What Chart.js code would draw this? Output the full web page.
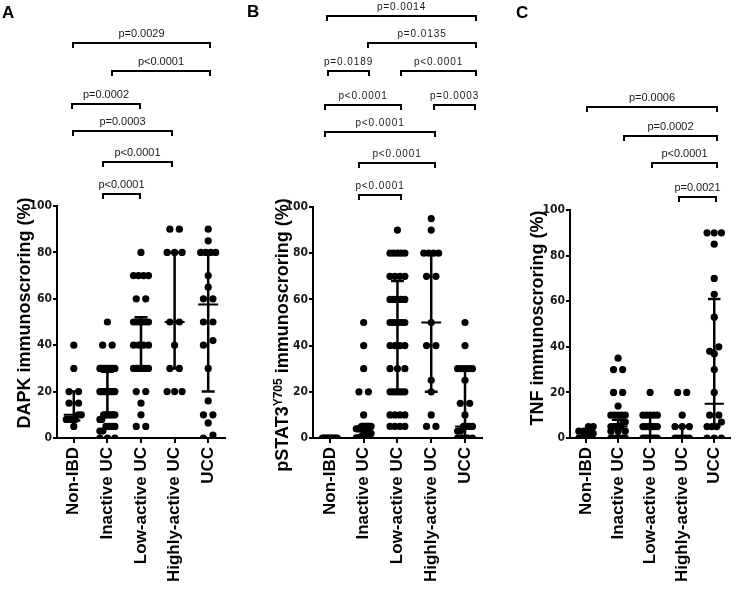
<!DOCTYPE html>
<html><head><meta charset="utf-8">
<script src="https://cdn.jsdelivr.net/npm/chart.js@4.4.1/dist/chart.umd.min.js"></script>
<style>
html,body{margin:0;padding:0;background:#fff;}
#wrap{position:relative;width:739px;height:593px;overflow:hidden;background:#fff;}
canvas{position:absolute;top:0;}
</style></head><body>
<div id="wrap">
<canvas id="cA" width="240" height="593" style="left:0px"></canvas>
<canvas id="cB" width="250" height="593" style="left:240px"></canvas>
<canvas id="cC" width="249" height="593" style="left:490px"></canvas>
</div>
<script>
// ---------- DATA ----------
const categories = ['Non-IBD', 'Inactive UC', 'Low-active UC', 'Highly-active UC', 'UCC'];
const yTicks = [0, 20, 40, 60, 80, 100];

// Panel A: DAPK immunoscoring (%)
const A_nonIBD   = [40, 30, 20, 20, 15, 15, 10, 10, 8, 8, 8, 8, 5];
const A_inactive = [50, 40, 40, 30, 30, 30, 30, 30, 30, 30, 30, 30, 20, 20, 20, 20, 20, 20, 20, 20, 20, 20,
                    10, 10, 10, 10, 10, 10, 10, 8, 8, 5, 5, 5, 5, 3, 3, 0, 0, 0];
const A_low      = [80, 70, 70, 70, 70, 60, 60, 50, 50, 50, 50, 50, 50, 40, 40, 40, 40,
                    30, 30, 30, 30, 30, 30, 20, 20, 15, 10, 5, 5];
const A_high     = [90, 90, 80, 80, 80, 50, 50, 40, 30, 30, 20, 20, 20];
const A_ucc      = [90, 85, 80, 80, 80, 80, 70, 65, 60, 60, 50, 50, 42, 40, 30, 16, 10, 10, 6.5, 1.3, 0];
const A_median = [10, 20, 40, 50, 57.5];
const A_q1     = [7.5, 10, 30, 30, 20];
const A_q3     = [20, 28.6, 52, 80, 80];
const A_pLabels = ['p=0.0029', 'p<0.0001', 'p=0.0002', 'p=0.0003', 'p<0.0001', 'p<0.0001'];

// Panel B: pSTAT3 Y705 immunoscoring (%)
const B_nonIBD   = [0, 0, 0, 0, 0, 0, 0, 0, 0, 0];
const B_inactive = [50, 40, 30, 20, 20, 10, 5, 5, 5, 5, 5, 5, 5, 5, 4, 4, 4, 4,
                    2, 2, 2, 2, 2, 2, 1, 1, 1, 1, 0, 0, 0, 0, 0, 0];
const B_low      = [90, 80, 80, 80, 80, 80, 70, 70, 70, 70, 60, 60, 60, 60, 60, 50, 50, 50, 50, 50, 50,
                    40, 40, 40, 40, 30, 30, 30, 20, 20, 20, 20, 20, 20, 10, 10, 10, 10, 5, 5, 5, 5];
const B_high     = [95, 90, 80, 80, 80, 80, 70, 70, 50, 40, 40, 25, 20, 10, 5, 5];
const B_ucc      = [50, 40, 30, 30, 30, 30, 30, 25, 15, 15, 10, 5, 5, 5, 5, 3, 3, 0, 0, 0, 0];
const B_median = [0, 1, 50, 50, 5];
const B_q1     = [0, 0, 20, 20, 0];
const B_q3     = [0, 5, 68, 80, 29.5];
const B_pLabels = ['p=0.0014', 'p=0.0135', 'p=0.0189', 'p<0.0001', 'p<0.0001', 'p=0.0003', 'p<0.0001', 'p<0.0001', 'p<0.0001'];

// Panel C: TNF immunoscoring (%)
const C_nonIBD   = [5, 5, 3, 3, 2, 2, 2, 1, 0, 0];
const C_inactive = [35, 30, 30, 20, 20, 14, 10, 10, 10, 10, 10, 7, 7, 5, 5, 5, 5, 5, 5, 3, 3, 3, 0, 0, 0, 0, 0, 0];
const C_low      = [20, 10, 10, 10, 10, 10, 5, 5, 5, 5, 5, 5, 0, 0, 0, 0, 0, 0, 0];
const C_high     = [20, 20, 10, 5, 5, 5, 0, 0, 0, 0, 0, 0];
const C_ucc      = [90, 90, 90, 85, 70, 63, 53, 40, 38, 37, 30, 20, 10, 10, 7, 5, 5, 5, 0, 0, 0];
const C_median = [2.8, 5, 5, 5, 15];
const C_q1     = [1, 0, 0, 0, 5];
const C_q3     = [3.5, 8, 10, 5, 61];
const C_pLabels = ['p=0.0006', 'p=0.0002', 'p<0.0001', 'p=0.0021'];

// ---------- LAYOUT (positions, not data) ----------
const A_bracketPos = [[-0.02, 4.05, 170.3], [1.14, 4.05, 158.2], [-0.05, 1.97, 144.0],
                      [-0.02, 2.92, 132.3], [0.88, 2.92, 119.0], [0.88, 1.97, 105.2]];
const B_bracketPos = [[-0.09, 4.34, 182.7], [1.13, 4.34, 171.0], [-0.06, 1.17, 158.9], [2.12, 4.34, 158.9],
                      [-0.15, 2.10, 144.2], [3.07, 4.30, 144.2], [-0.15, 3.10, 132.5], [0.87, 3.10, 119.0], [0.87, 2.10, 105.2]];
const C_bracketPos = [[0.04, 4.08, 145.2], [1.18, 4.08, 132.5], [2.07, 4.08, 120.6], [2.91, 4.05, 105.7]];

const TICK_FONT = "'Liberation Sans Narrow','DejaVu Sans Condensed','Arial Narrow',sans-serif";
const MAIN_FONT = "'Liberation Sans',Arial,Helvetica,sans-serif";

// spread points with (nearly) equal values side by side, like a scatter dot plot
function spread(vals, idx, unit) {
  const sorted = vals.map(v => v).sort((a, b) => b - a);
  const clusters = []; let cur = null;
  for (const v of sorted) {
    if (cur && cur[0] - v < 3) cur.push(v); else { cur = [v]; clusters.push(cur); }
  }
  const out = [];
  for (const c of clusters) {
    c.sort((a, b) => a - b);
    const n = c.length, span = Math.min((n - 1) * 9.5, 15);
    c.forEach((v, k) => {
      const off = n > 1 ? -span / 2 + span * k / (n - 1) : 0;
      out.push({x: idx + off / unit, y: v});
    });
  }
  return out;
}

const annot = {
  id: 'annot',
  afterDraw(chart, args, o) {
    const ctx = chart.ctx, xs = chart.scales.x, ys = chart.scales.y;
    ctx.save();
    ctx.strokeStyle = '#000'; ctx.lineWidth = 2; ctx.lineJoin = 'miter'; ctx.lineCap = 'butt';
    ctx.fillStyle = '#1a1a1a'; ctx.font = o.pFont; ctx.textAlign = 'center'; ctx.textBaseline = 'alphabetic';
    if ('letterSpacing' in ctx) ctx.letterSpacing = o.pSpacing;
    o.brackets.forEach((b, k) => {
      const x1 = Math.round(xs.getPixelForValue(b[0])), x2 = Math.round(xs.getPixelForValue(b[1]));
      const y = Math.round(ys.getPixelForValue(b[2]));
      ctx.beginPath(); ctx.moveTo(x1, y + 5); ctx.lineTo(x1, y); ctx.lineTo(x2, y); ctx.lineTo(x2, y + 5); ctx.stroke();
      ctx.fillText(o.labels[k], (x1 + x2) / 2, y - 6);
    });
    if ('letterSpacing' in ctx) ctx.letterSpacing = '0px';
    // y-axis title (rotated)
    ctx.fillStyle = '#000';
    ctx.translate(o.titleX, o.titleY); ctx.rotate(-Math.PI / 2);
    ctx.textAlign = 'left';
    let total = 0;
    o.title.forEach(p => { ctx.font = 'bold ' + p.size + 'px ' + MAIN_FONT; p.w = ctx.measureText(p.t).width; total += p.w; });
    let x = -total / 2;
    o.title.forEach(p => { ctx.font = 'bold ' + p.size + 'px ' + MAIN_FONT; ctx.fillText(p.t, x, 6.5 + p.dy); x += p.w; });
    ctx.setTransform(1, 0, 0, 1, 0, 0);
    // panel letter
    ctx.font = 'bold 17px ' + MAIN_FONT; ctx.textAlign = 'left';
    ctx.fillText(o.letter, o.letterX, o.letterY);
    ctx.restore();
  }
};

function makeChart(id, P) {
  const unit = (P.right - P.left) / 5;
  const pts = [];
  P.groups.forEach((vals, i) => pts.push(...spread(vals, i, unit)));
  const med = [], err = [];
  P.median.forEach((m, i) => { const h = 10 / unit; med.push({x: i - h, y: m}, {x: i + h, y: m}, {x: i, y: null}); });
  P.q1.forEach((lo, i) => {
    const hi = P.q3[i], c = 6.5 / unit;
    err.push({x: i, y: lo}, {x: i, y: hi}, {x: i, y: null},
             {x: i - c, y: hi}, {x: i + c, y: hi}, {x: i, y: null},
             {x: i - c, y: lo}, {x: i + c, y: lo}, {x: i, y: null});
  });
  const gridOpts = (len) => ({display: true, drawOnChartArea: false, drawTicks: true, tickLength: len, color: '#000', lineWidth: 2});
  new Chart(document.getElementById(id), {
    type: 'scatter',
    data: {datasets: [
      {type: 'line', data: med, borderColor: '#000', borderWidth: 2, pointRadius: 0, spanGaps: false, fill: false, tension: 0},
      {type: 'line', data: err, borderColor: '#000', borderWidth: 2.5, pointRadius: 0, spanGaps: false, fill: false, tension: 0},
      {type: 'scatter', data: pts, backgroundColor: '#000', borderWidth: 0, pointRadius: 3.6, pointHoverRadius: 3.6}
    ]},
    options: {
      responsive: false, animation: false, devicePixelRatio: 1, events: [],
      layout: {padding: {top: P.top, right: P.canvasWidth - (P.right - P.canvasLeft), bottom: 0, left: 0}},
      plugins: {
        legend: {display: false}, tooltip: {enabled: false},
        annot: {brackets: P.brackets, labels: P.labels, pFont: P.pFont, pSpacing: P.pSpacing,
                title: P.title, titleX: P.titleX, titleY: P.titleY, letter: P.letter, letterX: P.letterX, letterY: P.letterY}
      },
      scales: {
        x: {
          type: 'linear', min: -0.5, max: 4.5,
          afterBuildTicks: s => { s.ticks = categories.map((c, i) => ({value: i})); },
          afterFit: s => { s.height = 593 - P.bottom; },
          ticks: {autoSkip: false, maxRotation: 90, minRotation: 90, padding: 4, color: '#000',
                  font: {family: MAIN_FONT, size: 17, weight: 'bold'}, callback: v => categories[v]},
          grid: gridOpts(5), border: {display: true, color: '#000', width: 2}
        },
        y: {
          type: 'linear', min: 0, max: 100,
          afterBuildTicks: s => { s.ticks = yTicks.map(v => ({value: v})); },
          afterFit: s => { s.width = P.left - P.canvasLeft; },
          ticks: {padding: 1, color: '#1a1a1a', font: {family: TICK_FONT, size: 12, weight: 'bold'}},
          grid: gridOpts(4), border: {display: true, color: '#000', width: 2}
        }
      }
    },
    plugins: [annot]
  });
}

makeChart('cA', {
  canvasLeft: 0, canvasWidth: 240, left: 57, right: 225, top: 206, bottom: 438,
  groups: [A_nonIBD, A_inactive, A_low, A_high, A_ucc], median: A_median, q1: A_q1, q3: A_q3,
  brackets: A_bracketPos, labels: A_pLabels, pFont: '11px ' + MAIN_FONT, pSpacing: '0px',
  title: [{t: 'DAPK immunoscroring (%)', size: 18, dy: 0}], titleX: 23, titleY: 313,
  letter: 'A', letterX: 2, letterY: 18
});
makeChart('cB', {
  canvasLeft: 240, canvasWidth: 250, left: 313, right: 484, top: 207, bottom: 438,
  groups: [B_nonIBD, B_inactive, B_low, B_high, B_ucc], median: B_median, q1: B_q1, q3: B_q3,
  brackets: B_bracketPos, labels: B_pLabels, pFont: '10px ' + MAIN_FONT, pSpacing: '0.9px',
  title: [{t: 'pSTAT3', size: 18, dy: 0}, {t: 'Y705', size: 12, dy: -6}, {t: ' immunoscroring (%)', size: 18, dy: 0}],
  titleX: 41, titleY: 335,
  letter: 'B', letterX: 7, letterY: 17
});
makeChart('cC', {
  canvasLeft: 490, canvasWidth: 249, left: 570, right: 737, top: 210, bottom: 438,
  groups: [C_nonIBD, C_inactive, C_low, C_high, C_ucc], median: C_median, q1: C_q1, q3: C_q3,
  brackets: C_bracketPos, labels: C_pLabels, pFont: '11px ' + MAIN_FONT, pSpacing: '0px',
  title: [{t: 'TNF immunoscroring (%)', size: 18, dy: 0}], titleX: 46, titleY: 318,
  letter: 'C', letterX: 26, letterY: 18
});
</script>
</body></html>
